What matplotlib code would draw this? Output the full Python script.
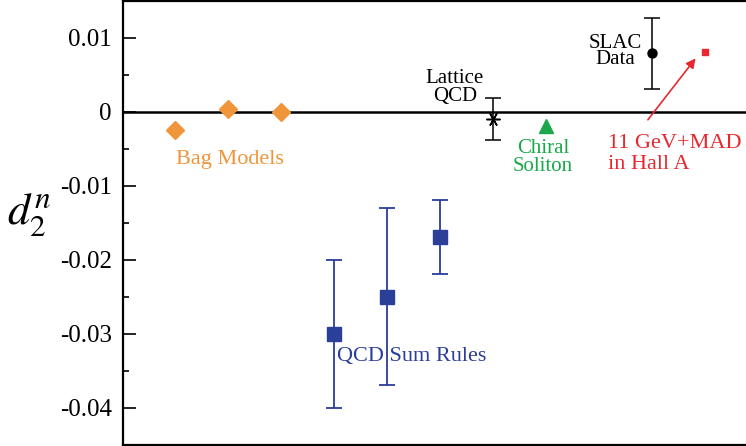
import matplotlib
matplotlib.use("Agg")
import matplotlib.pyplot as plt
from matplotlib.ticker import MultipleLocator, FixedFormatter, FixedLocator

plt.rcParams['font.family'] = ['Liberation Serif', 'DejaVu Serif']
plt.rcParams['mathtext.fontset'] = 'stix'

# data
bag_x = [1, 2, 3]
bag_y = [-0.0025, 0.0003, 0.0]

qcd_x = [4, 5, 6]
qcd_y = [-0.030, -0.025, -0.017]
qcd_lo = [0.010, 0.012, 0.005]
qcd_hi = [0.010, 0.012, 0.005]

lattice_x = [7]
lattice_y = [-0.001]
lattice_err = [[0.0029], [0.0029]]

chiral_x = [8]
chiral_y = [-0.0020]

slac_x = [10]
slac_y = [0.0079]
slac_err = [[0.0048], [0.0048]]

halla_x = [11]
halla_y = [0.0080]

ytick_vals = [-0.04, -0.03, -0.02, -0.01, 0, 0.01]
ytick_labels = ["-0.04", "-0.03", "-0.02", "-0.01", "0", "0.01"]

orange = "#F0953A"
navy = "#2B3E98"
green = "#1BA84B"
red = "#E8282E"

fig = plt.figure(figsize=(7.46, 4.46), dpi=100)
ax = fig.add_axes([123 / 746, 1 / 446, 1 - 123 / 746, 444 / 446])

ax.axhline(0, color="black", lw=1.8, zorder=1)

ax.plot(bag_x, bag_y, "D", color=orange, ms=9, mec=orange, zorder=3)

ax.errorbar(qcd_x, qcd_y, yerr=[qcd_lo, qcd_hi], fmt="s", color=navy,
            ms=9.5, elinewidth=1.3, capsize=6, capthick=1.3, zorder=3)

ax.errorbar(lattice_x, lattice_y, yerr=lattice_err, fmt="none", ecolor="black",
            elinewidth=1.1, capsize=6, capthick=1.1, zorder=3)
ax.plot(lattice_x, lattice_y, marker=(6, 2, 90), color="black", ms=10, mew=1.1,
        ls="none", zorder=4)

ax.plot(chiral_x, chiral_y, "^", color=green, ms=9.5, zorder=3)

ax.errorbar(slac_x, slac_y, yerr=slac_err, fmt="o", color="black",
            ms=6.5, elinewidth=1.1, capsize=6, capthick=1.1, zorder=3)

ax.plot(halla_x, halla_y, "s", color=red, ms=4, zorder=3)

# labels
ax.text(2.04, -0.0065, "Bag Models", color=orange, fontsize=16,
        ha="center", va="center")
ax.text(4.05, -0.0331, "QCD Sum Rules", color=navy, fontsize=16,
        ha="left", va="center")
ax.text(6.28, 0.0033, "Lattice\nQCD", color="black", fontsize=15,
        ha="center", va="center", linespacing=0.9)
ax.text(7.94, -0.0062, "Chiral\nSoliton", color=green, fontsize=15,
        ha="center", va="center", linespacing=0.9)
ax.text(9.3, 0.0081, "SLAC\nData", color="black", fontsize=15,
        ha="center", va="center", linespacing=0.8)
ax.text(9.17, -0.0057, "11 GeV+MAD\nin Hall A", color=red, fontsize=16,
        ha="left", va="center", linespacing=1.15)
ax.annotate("", xy=(10.82, 0.0072), xytext=(9.92, -0.0011),
            arrowprops=dict(arrowstyle="-|>", color=red, lw=1.2,
                            mutation_scale=14, shrinkA=0, shrinkB=0))

ax.set_xlim(0.02, 11.77)
ax.set_ylim(-0.04505, 0.01495)
ax.set_xticks([])
ax.yaxis.set_major_locator(FixedLocator(ytick_vals))
ax.yaxis.set_major_formatter(FixedFormatter(ytick_labels))
ax.yaxis.set_minor_locator(MultipleLocator(0.005))
ax.tick_params(axis="y", which="major", direction="in", length=9, width=1.2,
               labelsize=18, pad=8)
ax.tick_params(axis="y", which="minor", direction="in", length=4.5, width=1.2)

for side in ["left", "top", "bottom"]:
    ax.spines[side].set_linewidth(1.6)
ax.spines["right"].set_visible(False)

ax.set_ylabel(r"$d_2^n$", fontsize=32, rotation=0, ha="center", va="center")
ax.yaxis.set_label_coords(-0.15, 0.52)

fig.savefig("out.png", dpi=100)
